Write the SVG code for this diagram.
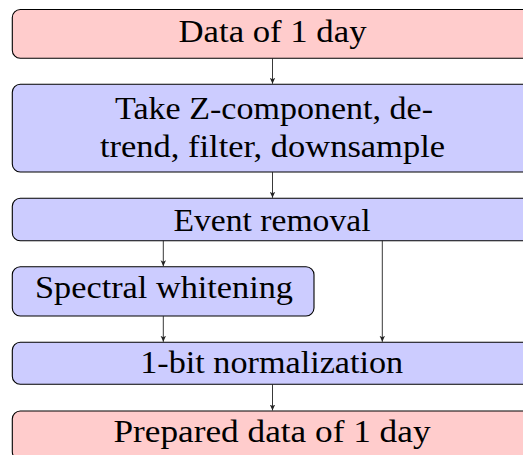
<svg xmlns="http://www.w3.org/2000/svg" width="523" height="455" viewBox="0 0 523 455">
<style>
.box{stroke:#000;stroke-width:1.1}
.red{fill:#ffcccc}
.blue{fill:#ccccff}
text{font-family:"Liberation Serif","Times New Roman",serif;font-size:32px;fill:#000;text-anchor:middle}
.conn line{stroke:#222;stroke-width:0.9;fill:none}
</style>
<defs>
<marker id="ah" viewBox="0 0 10 10" refX="10" refY="5" markerWidth="6" markerHeight="6" markerUnits="userSpaceOnUse" orient="auto">
<path d="M0,0.5 L10,5 L0,9.5 L2.5,5 Z" fill="#222"/>
</marker>
</defs>
<g id="n1"><rect class="box red" x="12.3" y="9.5" width="520" height="48.8" rx="8"/><text x="272.5" y="42.3" textLength="188" lengthAdjust="spacingAndGlyphs">Data of 1 day</text></g>
<g id="n2"><rect class="box blue" x="12.3" y="84.3" width="520" height="87.7" rx="8"/><text x="274" y="119.3" textLength="318" lengthAdjust="spacingAndGlyphs">Take Z-component, de-</text><text x="272.5" y="156.5" textLength="345" lengthAdjust="spacingAndGlyphs">trend, filter, downsample</text></g>
<g id="n3"><rect class="box blue" x="12.3" y="198.3" width="520" height="42.4" rx="8"/><text x="272" y="230.7" textLength="197" lengthAdjust="spacingAndGlyphs">Event removal</text></g>
<g id="n4"><rect class="box blue" x="12.3" y="266.7" width="301.7" height="49.3" rx="8"/><text x="164" y="298.3" textLength="258" lengthAdjust="spacingAndGlyphs">Spectral whitening</text></g>
<g id="n5"><rect class="box blue" x="12.3" y="342.3" width="520" height="42" rx="8"/><text x="271.7" y="373.3" textLength="263" lengthAdjust="spacingAndGlyphs">1-bit normalization</text></g>
<g id="n6"><rect class="box red" x="12.3" y="411" width="520" height="48.8" rx="8"/><text x="272" y="442" textLength="317" lengthAdjust="spacingAndGlyphs">Prepared data of 1 day</text></g>
<g class="conn" id="connectors">
<line x1="272.5" y1="58.3" x2="272.5" y2="83.8" marker-end="url(#ah)"/>
<line x1="272.5" y1="172" x2="272.5" y2="197.8" marker-end="url(#ah)"/>
<line x1="163.3" y1="240.7" x2="163.3" y2="266.2" marker-end="url(#ah)"/>
<line x1="163.3" y1="316" x2="163.3" y2="341.8" marker-end="url(#ah)"/>
<line x1="382.3" y1="240.7" x2="382.3" y2="341.8" marker-end="url(#ah)"/>
<line x1="272.5" y1="384.3" x2="272.5" y2="410.5" marker-end="url(#ah)"/>
</g>
</svg>
